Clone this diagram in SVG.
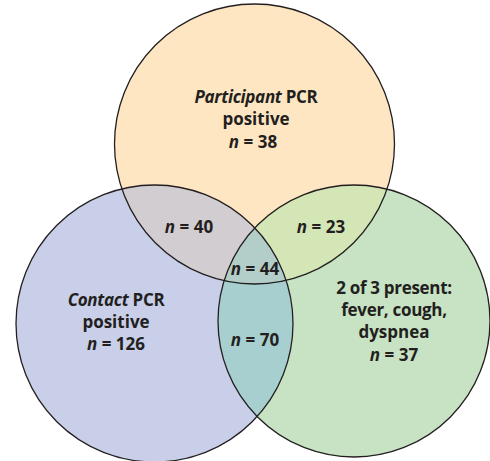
<svg xmlns="http://www.w3.org/2000/svg" width="490" height="461" viewBox="0 0 490 461">
<style>
text{font-family:"Open Sans","Noto Sans","DejaVu Sans",sans-serif;font-weight:700;font-size:17px;fill:#231f20;text-anchor:middle}
.i{font-style:italic}
.ol{fill:none;stroke:#231f20;stroke-width:1.3}
</style>
<defs>
<clipPath id="cT"><circle cx="254.5" cy="144" r="140"/></clipPath>
<clipPath id="cL"><circle cx="154.5" cy="323.5" r="138.5"/></clipPath>
<clipPath id="cR"><circle cx="354" cy="321" r="136"/></clipPath>
</defs>
<rect width="490" height="461" fill="#ffffff"/>
<g id="participant">
<circle cx="254.5" cy="144" r="140" fill="#fee6c2"/>
<text x="256" y="103" letter-spacing="-0.3"><tspan class="i">Participant</tspan> PCR</text>
<text x="256" y="125">positive</text>
<text x="253" y="148"><tspan class="i">n</tspan> = 38</text>
</g>
<g id="contact">
<circle cx="154.5" cy="323.5" r="138.5" fill="#c9cfe9"/>
<text x="116" y="306" letter-spacing="-0.3"><tspan class="i">Contact</tspan> PCR</text>
<text x="116" y="328">positive</text>
<text x="116" y="350"><tspan class="i">n</tspan> = 126</text>
</g>
<g id="symptoms">
<circle cx="354" cy="321" r="136" fill="#c8e3c4"/>
<text x="394" y="294" letter-spacing="-0.3">2 of 3 present:</text>
<text x="394" y="316" letter-spacing="-0.3">fever, cough,</text>
<text x="394" y="338">dyspnea</text>
<text x="394" y="361"><tspan class="i">n</tspan> = 37</text>
</g>
<g id="participant-contact">
<g clip-path="url(#cT)"><circle cx="154.5" cy="323.5" r="138.5" fill="#d2cdd0"/></g>
<text x="189" y="233"><tspan class="i">n</tspan> = 40</text>
</g>
<g id="participant-symptoms">
<g clip-path="url(#cT)"><circle cx="354" cy="321" r="136" fill="#d4e6b5"/></g>
<text x="321" y="233"><tspan class="i">n</tspan> = 23</text>
</g>
<g id="contact-symptoms">
<g clip-path="url(#cL)"><circle cx="354" cy="321" r="136" fill="#a8cfd0"/></g>
<text x="255" y="346"><tspan class="i">n</tspan> = 70</text>
</g>
<g id="all-three">
<g clip-path="url(#cT)"><g clip-path="url(#cL)"><circle cx="354" cy="321" r="136" fill="#b3cdc8"/></g></g>
<text x="255" y="275"><tspan class="i">n</tspan> = 44</text>
</g>
<g id="outlines">
<circle class="ol" cx="254.5" cy="144" r="140"/>
<circle class="ol" cx="154.5" cy="323.5" r="138.5"/>
<circle class="ol" cx="354" cy="321" r="136"/>
</g>
</svg>
